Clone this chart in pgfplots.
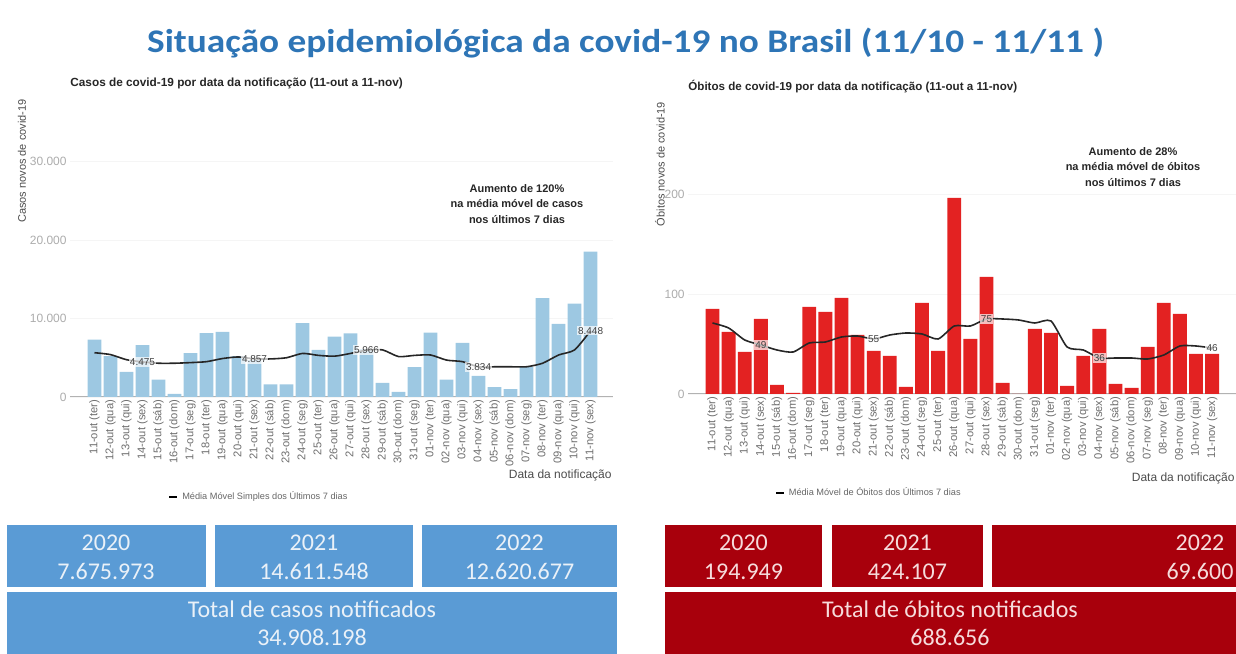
\documentclass[border=0pt]{standalone}
\usepackage{pgfplots}
\pgfplotsset{compat=1.18}
\usepackage{fontspec}
\setmainfont{Liberation Sans}
\newfontfamily\calibri{Carlito}
\definecolor{titleblue}{HTML}{2E75B6}
\definecolor{barblue}{HTML}{9DC8E2}
\definecolor{barred}{HTML}{E32222}
\definecolor{boxblue}{HTML}{5A9BD5}
\definecolor{boxred}{HTML}{A8000C}
\definecolor{ticktext}{HTML}{6E6E6E}
\definecolor{boxtextb}{HTML}{EAF1F8}
\definecolor{boxtextr}{HTML}{F6DCDC}
\pgfplotsset{
  datelabels/.style={xticklabels={11-out (ter),12-out (qua),13-out (qui),14-out (sex),15-out (sáb),16-out (dom),17-out (seg),18-out (ter),19-out (qua),20-out (qui),21-out (sex),22-out (sáb),23-out (dom),24-out (seg),25-out (ter),26-out (qua),27-out (qui),28-out (sex),29-out (sáb),30-out (dom),31-out (seg),01-nov (ter),02-nov (qua),03-nov (qui),04-nov (sex),05-nov (sáb),06-nov (dom),07-nov (seg),08-nov (ter),09-nov (qua),10-nov (qui),11-nov (sex)}},
  covstyle/.style={
    scale only axis, anchor=south west,
    axis x line*=bottom, axis y line*=left,
    x axis line style={draw=gray!60, line width=0.5pt, -},
    y axis line style={draw=none, -},
    major tick length=0pt,
    scaled y ticks=false,
    xtick={0,...,31}, datelabels,
    xticklabel style={rotate=90, anchor=east, font=\fontsize{5.6}{6}\selectfont, text=ticktext, inner sep=1.2pt},
    yticklabel style={font=\fontsize{6}{7}\selectfont, text=gray!65, inner sep=1.5pt},
    ymajorgrids, grid style={draw=gray!8, line width=0.4pt},
    clip=false,
    legend style={draw=none, fill=none, font=\fontsize{4.6}{6}\selectfont, text=gray!80!black, anchor=center, inner sep=0pt, legend cell align=left},
    legend image code/.code={\draw[black, line width=0.8pt] (0pt,0pt) -- (4pt,0pt);},
  },
  malabels/.style={draw=none, mark=none, nodes near coords, point meta=explicit symbolic,
    every node near coord/.style={anchor=center, font=\fontsize{5}{6}\selectfont, text=black!75, fill=white, fill opacity=0.7, text opacity=1, inner sep=0.6pt}},
}
\begin{document}
\begin{tikzpicture}
% ---------------- Casos ----------------
\begin{axis}[covstyle,
  at={(35pt,128pt)}, width=271.5pt, height=145.25pt,
  xmin=-1.53, xmax=32.4, ymin=0, ymax=37000,
  ytick={0,10000,20000,30000}, yticklabels={0,10.000,20.000,30.000},
  legend style={at={(0.35,-0.344)}},
]
\addplot[ybar, bar shift=0pt, bar width=0.86, fill=barblue, draw=none, forget plot] coordinates {
(0,7300) (1,5200) (2,3200) (3,6600) (4,2200) (5,400) (6,5600) (7,8150)
(8,8300) (9,5200) (10,4700) (11,1600) (12,1600) (13,9400) (14,6000) (15,7700)
(16,8100) (17,6100) (18,1800) (19,650) (20,3800) (21,8200) (22,2200) (23,6900)
(24,2700) (25,1250) (26,1000) (27,3800) (28,12600) (29,9300) (30,11900) (31,18500)};
\addplot[black!85, line width=0.8pt, smooth, tension=0.4, mark=none] coordinates {
(0,5640) (1,5400) (2,4750) (3,4475) (4,4300) (5,4300) (6,4380) (7,4500)
(8,4900) (9,5100) (10,4857) (11,4850) (12,5000) (13,5550) (14,5300) (15,5200)
(16,5550) (17,5966) (18,6000) (19,5150) (20,5300) (21,5350) (22,4700) (23,4500)
(24,3834) (25,3850) (26,3850) (27,3850) (28,4300) (29,5350) (30,6000) (31,8448)};
\addlegendentry{Média Móvel Simples dos Últimos 7 dias}
\addplot[malabels, forget plot] coordinates {(3,4475) [4.475] (10,4857) [4.857] (17,5966) [5.966] (24,3834) [3.834] (31,8448) [8.448]};
\end{axis}
% ---------------- Óbitos ----------------
\begin{axis}[covstyle,
  at={(344pt,129.5pt)}, width=274pt, height=145pt,
  xmin=-1.52, xmax=32.48, ymin=0, ymax=290,
  ytick={0,100,200}, yticklabels={0,100,200},
  legend style={at={(0.332,-0.341)}},
]
\addplot[ybar, bar shift=0pt, bar width=0.86, fill=barred, draw=none, forget plot] coordinates {
(0,85) (1,62) (2,42) (3,75) (4,9) (5,1) (6,87) (7,82)
(8,96) (9,59) (10,43) (11,38) (12,7) (13,91) (14,43) (15,196)
(16,55) (17,117) (18,11) (19,0) (20,65) (21,61) (22,8) (23,38)
(24,65) (25,10) (26,6) (27,47) (28,91) (29,80) (30,40) (31,40)};
\addplot[black!85, line width=0.8pt, smooth, tension=0.4, mark=none] coordinates {
(0,71) (1,66) (2,54) (3,49) (4,44) (5,42) (6,51) (7,52)
(8,57) (9,58) (10,55) (11,59) (12,61) (13,60) (14,55) (15,68)
(16,68) (17,75) (18,75) (19,74) (20,71) (21,73) (22,47) (23,44)
(24,36) (25,36) (26,36) (27,35) (28,39) (29,48) (30,48) (31,46)};
\addlegendentry{Média Móvel de Óbitos dos Últimos 7 dias}
\addplot[malabels, forget plot] coordinates {(3,49) [49] (10,55) [55] (17,75) [75] (24,36) [36] (31,46) [46]};
\end{axis}
% ---------------- texts ----------------
\node[anchor=base, inner sep=0, font=\calibri\bfseries\fontsize{16.5}{20}\selectfont, text=titleblue] at (312.75pt,300pt) {\scalebox{1.13}[1]{Situação epidemiológica da covid-19 no Brasil (11/10 - 11/11 )}};
\node[anchor=base west, inner sep=0, font=\bfseries\fontsize{5.9}{6.5}\selectfont, text=black!85] at (35pt,283pt) {Casos de covid-19 por data da notificação (11-out a 11-nov)};
\node[anchor=base west, inner sep=0, font=\bfseries\fontsize{5.8}{6.5}\selectfont, text=black!85] at (344pt,281pt) {Óbitos de covid-19 por data da notificação (11-out a 11-nov)};
\node[rotate=90, inner sep=0, font=\fontsize{5.5}{6}\selectfont, text=black!70] at (11pt,246pt) {Casos novos de covid-19};
\node[rotate=90, inner sep=0, font=\fontsize{5.5}{6}\selectfont, text=black!70] at (330pt,244.5pt) {Óbitos novos de covid-19};
\begin{scope}[every node/.style={anchor=base, inner sep=0, font=\bfseries\fontsize{5.5}{6}\selectfont, text=black!85}]
\node at (258.5pt,230pt) {Aumento de 120\%};
\node at (258.5pt,222.5pt) {na média móvel de casos};
\node at (258.5pt,214.5pt) {nos últimos 7 dias};
\node at (566.5pt,248.5pt) {Aumento de 28\%};
\node at (566.5pt,241pt) {na média móvel de óbitos};
\node at (566.5pt,233pt) {nos últimos 7 dias};
\end{scope}
\node[anchor=base east, inner sep=0, font=\fontsize{6}{7}\selectfont, text=black!70] at (306pt,87pt) {Data da notificação};
\node[anchor=base east, inner sep=0, font=\fontsize{6}{7}\selectfont, text=black!70] at (617.5pt,85.5pt) {Data da notificação};
% ---------------- boxes ----------------
\fill[boxblue] (3.5pt,33pt) rectangle (103pt,64pt);
\fill[boxblue] (107.5pt,33pt) rectangle (206.5pt,64pt);
\fill[boxblue] (211pt,33pt) rectangle (308.5pt,64pt);
\fill[boxblue] (3.5pt,-1pt) rectangle (308.5pt,30.5pt);
\fill[boxred] (332.5pt,33pt) rectangle (411pt,64pt);
\fill[boxred] (416pt,33pt) rectangle (491.5pt,64pt);
\fill[boxred] (496pt,33pt) rectangle (619pt,64pt);
\fill[boxred] (332.5pt,-1pt) rectangle (619pt,30.5pt);
\begin{scope}[every node/.style={anchor=base, inner sep=0, font=\calibri\fontsize{12}{14}\selectfont, text=boxtextb}]
\node at (53pt,51pt) {2020};
\node at (53pt,37pt) {7.675.973};
\node at (157pt,51pt) {2021};
\node at (157pt,37pt) {14.611.548};
\node at (259.75pt,51pt) {2022};
\node at (259.75pt,37pt) {12.620.677};
\node at (156pt,18pt) {Total de casos notificados};
\node at (156pt,4pt) {34.908.198};
\end{scope}
\begin{scope}[every node/.style={anchor=base, inner sep=0, font=\calibri\fontsize{12}{14}\selectfont, text=boxtextr}]
\node at (371.75pt,51pt) {2020};
\node at (371.75pt,37pt) {194.949};
\node at (453.75pt,51pt) {2021};
\node at (453.75pt,37pt) {424.107};
\node at (600pt,51pt) {2022};
\node at (600pt,37pt) {69.600};
\node at (475pt,18pt) {Total de óbitos notificados};
\node at (475pt,4pt) {688.656};
\end{scope}
\pgfresetboundingbox
\path[use as bounding box] (0,0) rectangle (618pt,326.5pt);
\end{tikzpicture}
\end{document}
